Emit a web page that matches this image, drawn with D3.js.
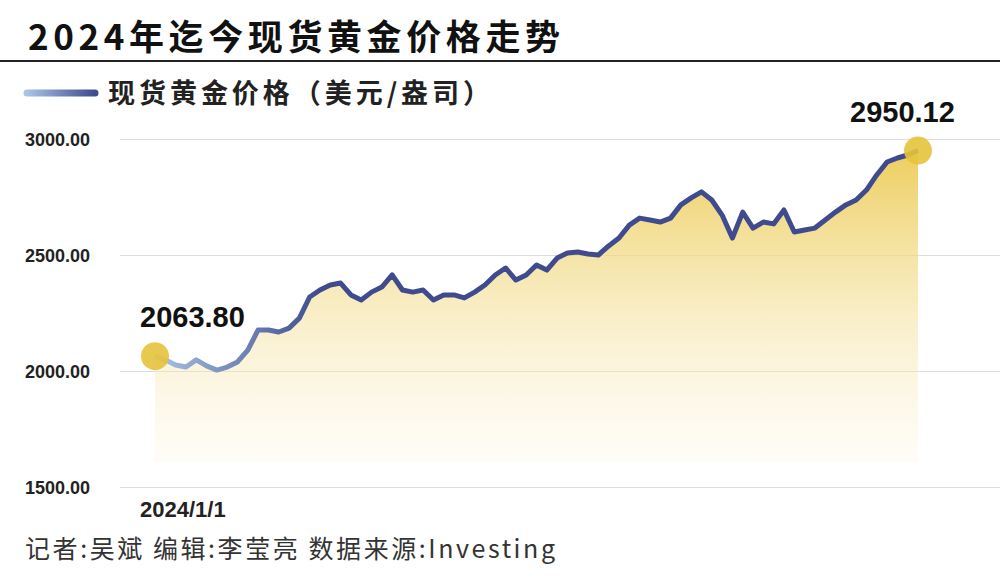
<!DOCTYPE html>
<html><head><meta charset="utf-8">
<script src="https://cdn.jsdelivr.net/npm/d3@7"></script>
<style>body{margin:0;background:#fff}svg{display:block}</style>
</head><body><svg id="c" width="1000" height="577"></svg>
<script>
const title = "2024年迄今现货黄金价格走势";
const seriesName = "现货黄金价格（美元/盎司）";
const yTicks = [1500, 2000, 2500, 3000];
const xLabel = "2024/1/1";
const prices = [2063.8,2048,2026,2017,2048,2022,2004,2017,2039,2090,2177,2177,2168,2185,2228,2319,2349,2371,2379,2328,2306,2340,2362,2414,2349,2340,2349,2306,2328,2328,2315,2340,2371,2414,2444,2392,2414,2457,2435,2487,2509,2513,2504,2500,2539,2573,2629,2659,2651,2642,2659,2716,2746,2772,2737,2672,2573,2685,2616,2642,2634,2694,2599,2608,2616,2651,2685,2716,2737,2780,2845,2901,2918,2931,2950.12];
const footer = "记者:吴斌  编辑:李莹亮  数据来源:Investing";

const svg = d3.select("#c");
const F = "'Noto Sans CJK SC','Liberation Sans',sans-serif";
const y = d3.scaleLinear().domain([1500,3000]).range([487,139]);
const x = d3.scaleLinear().domain([0, prices.length-1]).range([155,918]);

const defs = svg.append("defs");
const lg = defs.append("linearGradient").attr("id","lg").attr("gradientUnits","userSpaceOnUse").attr("x1",155).attr("x2",320).attr("y1",0).attr("y2",0);
lg.append("stop").attr("offset","0").attr("stop-color","#a8c3e6");
lg.append("stop").attr("offset","1").attr("stop-color","#3f4b8e");
const ag = defs.append("linearGradient").attr("id","ag").attr("x1",0).attr("x2",0).attr("y1",0).attr("y2",1);
ag.append("stop").attr("offset","0").attr("stop-color","#eccb55").attr("stop-opacity",0.95);
ag.append("stop").attr("offset","1").attr("stop-color","#fbf3d6").attr("stop-opacity",0.2);
const leg = defs.append("linearGradient").attr("id","leg").attr("gradientUnits","userSpaceOnUse").attr("x1",27).attr("x2",95).attr("y1",0).attr("y2",0);
leg.append("stop").attr("offset","0").attr("stop-color","#a8c3e6");
leg.append("stop").attr("offset","1").attr("stop-color","#3f4b8e");

svg.append("text").attr("x",28).attr("y",50).attr("font-family",F).attr("font-weight","bold").attr("font-size",35).attr("textLength",532).attr("fill","#111").text(title);
svg.append("line").attr("x1",0).attr("x2",1000).attr("y1",61).attr("y2",61).attr("stroke","#222").attr("stroke-width",2);

svg.append("line").attr("x1",27).attr("x2",95).attr("y1",93).attr("y2",93).attr("stroke","url(#leg)").attr("stroke-width",7).attr("stroke-linecap","round");
svg.append("text").attr("x",108).attr("y",103).attr("font-family",F).attr("font-weight","bold").attr("font-size",27).attr("textLength",382).attr("fill","#222").text(seriesName);

const ya = svg.append("g").attr("transform","translate(120,0)").call(d3.axisRight(y).tickValues(yTicks).tickSize(880).tickFormat(""));
ya.select(".domain").remove();
ya.selectAll("line").attr("stroke","#ddd");
svg.selectAll(".yl").data(yTicks).join("text").attr("x",25).attr("y",d=>y(d)+7).attr("font-family","'Liberation Sans',sans-serif").attr("font-weight","bold").attr("font-size",18).attr("fill","#222").text(d=>d.toFixed(2));

svg.append("path").datum(prices).attr("fill","url(#ag)").attr("d",d3.area().x((d,i)=>x(i)).y0(462).y1(d=>y(d)));
svg.append("path").datum(prices).attr("fill","none").attr("stroke","url(#lg)").attr("stroke-width",5).attr("stroke-linejoin","round").attr("d",d3.line().x((d,i)=>x(i)).y(d=>y(d)));

const ends=[0,prices.length-1];
svg.selectAll(".dot").data(ends).join("circle").attr("cx",i=>x(i)).attr("cy",i=>y(prices[i])).attr("r",14).attr("fill","#e6c33c").attr("opacity",0.9);
svg.append("text").attr("x",140).attr("y",327).attr("font-family","'Liberation Sans',sans-serif").attr("font-weight","bold").attr("font-size",29).attr("fill","#111").text(prices[0].toFixed(2));
svg.append("text").attr("x",850).attr("y",122).attr("font-family","'Liberation Sans',sans-serif").attr("font-weight","bold").attr("font-size",29).attr("fill","#111").text(prices[prices.length-1].toFixed(2));

svg.append("text").attr("x",140).attr("y",517).attr("font-family","'Liberation Sans',sans-serif").attr("font-weight","bold").attr("font-size",22).attr("fill","#222").text(xLabel);
svg.append("text").attr("x",25).attr("y",558).attr("font-family",F).attr("font-size",25).attr("textLength",530).attr("fill","#333").text(footer);
</script></body></html>
